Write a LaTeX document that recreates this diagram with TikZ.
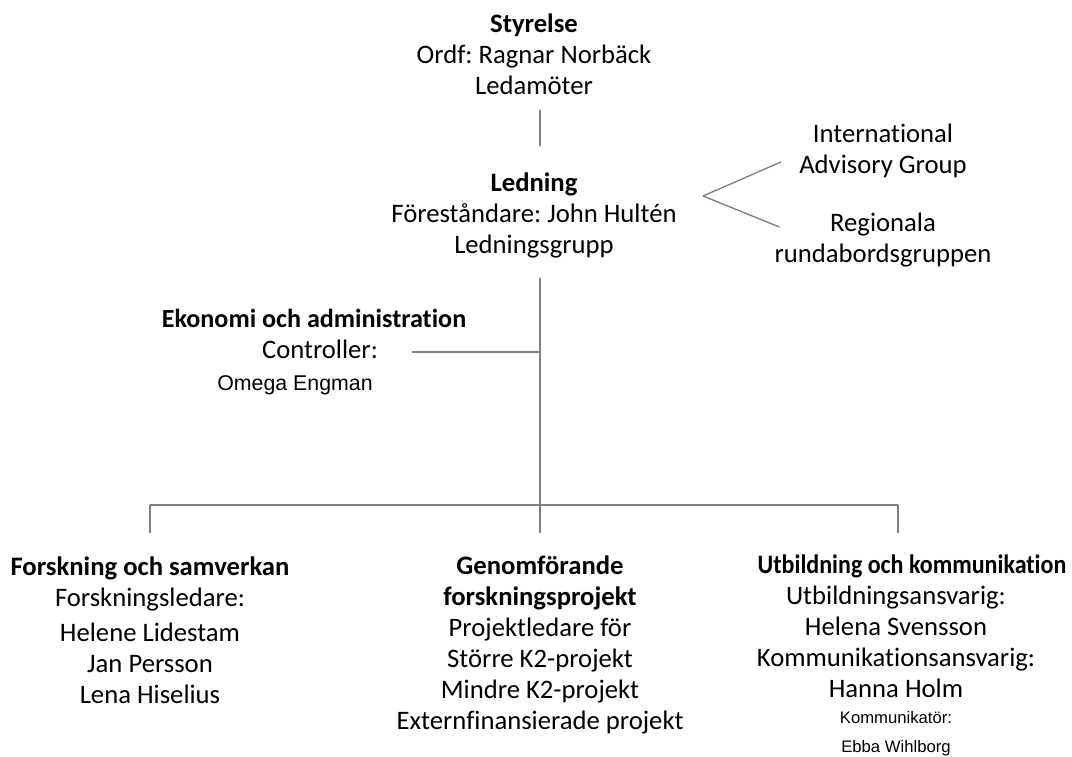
\documentclass[tikz,border=0pt]{standalone}
\usepackage{graphicx}
\usepackage{fontspec}
\setmainfont{Carlito}[Ligatures=NoCommon]
\newfontfamily\arialfont{Liberation Sans}
\frenchspacing
\usetikzlibrary{calc}
\definecolor{linegray}{RGB}{128,128,128}

\begin{document}
\begin{tikzpicture}[x=0.75pt,y=-0.75pt,
  unit/.style={align=center,inner sep=0pt,font=\fontsize{20}{23.3}\selectfont},
  link/.style={draw=linegray,line width=1pt}]
\useasboundingbox (0,0) rectangle (1072,757);
% top of the chart
\node[unit] (sty) at (534,54) {\textbf{Styrelse}\\Ordf: Ragnar Norbäck\\Ledamöter};
\node[unit] (led) at (534,215) {\textbf{Ledning}\\Föreståndare: John Hultén\\Ledningsgrupp};
\node[unit] (iag) at (883,151) {International\\Advisory Group};
\node[unit] (reg) at (883,240) {Regionala\\rundabordsgruppen};
\node[unit] (eko) at (314,352) {{\fontsize{19.6}{23.3}\selectfont\textbf{Ekonomi och administration}}\\\hspace*{9pt}Controller:\\{\arialfont\fontsize{16}{23.3}\selectfont Omega Engman}\hspace*{28.5pt}};
% bottom row
\node[unit] (fors) at (150,630) {\textbf{Forskning och samverkan}\\Forskningsledare:\\[3pt]Helene Lidestam\\Jan Persson\\Lena Hiselius};
\node[unit] (gen) at (540,645) {\textbf{Genomförande}\\\textbf{forskningsprojekt}\\Projektledare för\\Större K2-projekt\\Mindre K2-projekt\\Externfinansierade projekt};
\node[unit] (utb) at (896,655) {\hspace*{24pt}\scalebox{0.9}[1]{\textbf{Utbildning och kommunikation}}\\Utbildningsansvarig:\\Helena Svensson\\Kommunikationsansvarig:\\Hanna Holm\\[-4pt]{\arialfont\fontsize{12.5}{15}\selectfont Kommunikatör:}\\[-1.5pt]{\arialfont\fontsize{12.5}{15}\selectfont Ebba Wihlborg}};
\coordinate (fork) at (540,505);
\coordinate (adv) at (703,196);
% connectors
\draw[link] (sty.south -| fork) ++(0,15) -- (540,146);
\draw[link] (led.south -| fork) ++(0,20) -- (fork);
\draw[link] (eko.center) ++(98,0) -- (eko -| fork);
\draw[link] (fork) -- ++(0,28);
\draw[link] (fors.north |- fork) -- ++(0,28);
\draw[link] (fork -| 898,0) -- ++(0,28);
\draw[link] (fors.north |- fork) -- (fork -| 898,0);
\draw[link] (adv) -- ($(iag.west)+(-18,11)$);
\draw[link] (adv) -- ($(reg.west)+(5,-13)$);
\end{tikzpicture}
\end{document}
